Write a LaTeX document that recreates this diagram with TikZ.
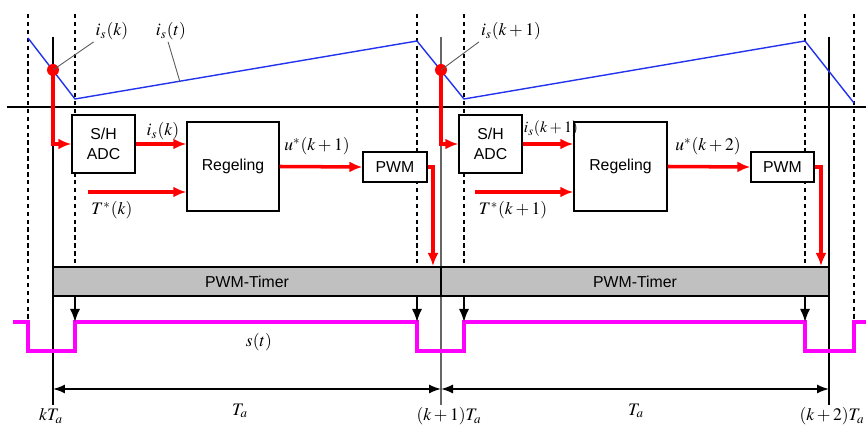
\documentclass[tikz,border=0pt]{standalone}
\usepackage{mathptmx}
\usepackage{fontspec}
\setmainfont{Liberation Sans}
\usetikzlibrary{arrows.meta, positioning}
\definecolor{curBlue}{HTML}{2233EE}
\definecolor{swMagenta}{HTML}{FF00FF}
\definecolor{timerGray}{HTML}{C0C0C0}
\tikzset{
  blockbox/.style={
    draw, thick, fill=white,
    inner sep=0pt, align=center, font=\small
  },
  timerbar/.style={
    draw, thick, fill=timerGray,
    minimum width=7.76cm, minimum height=0.58cm,
    inner sep=0pt, font=\small
  },
  sample/.style={circle, fill=red, minimum size=0.24cm, inner sep=0pt},
  sigarr/.style={-{Latex[length=2.6mm, width=2.2mm]}, red, line width=2pt},
  trigarr/.style={-{Latex[length=2.6mm, width=2mm]}, line width=0.9pt},
  dimarr/.style={{Latex[length=2.4mm]}-{Latex[length=2.4mm]}, line width=0.9pt},
  markline/.style={dash pattern=on 2.5pt off 2pt, line width=0.8pt},
  pointer/.style={black!65, line width=0.5pt},
  mlabel/.style={font=\normalsize, inner sep=1pt}
}

\begin{document}
\begin{tikzpicture}[x=0.02cm, y=-0.02cm]
\useasboundingbox (0,0) rectangle (866,428);

% time marks
\foreach \xx in {28,75,417,464,805,854}
  \draw[markline] (\xx,14) -- (\xx,352);
\draw[line width=0.9pt] (53,37) -- (53,405);
\draw[line width=0.9pt, black!60] (441,37) -- (441,405);
\draw[line width=0.9pt] (829,37) -- (829,405);
\draw[line width=0.9pt] (7,107) -- (866,107);

% current
\draw[curBlue, line width=0.8pt] (28,38) -- (75,99) -- (417,41) -- (464,99) -- (805,41) -- (854,103);
\coordinate (cp) at (180,82);
\node[sample] (d1) at (53,70) {};
\node[sample] (d2) at (441,70) {};
\node[mlabel] (lisk) at (112,31) {$i_s(k)$};
\node[mlabel] (lisT) at (171,31) {$i_s(t)$};
\node[mlabel] (lisk1) at (511,31) {$i_s(k+1)$};
\draw[pointer] (d1.center) -- (lisk.south west);
\draw[pointer] (lisT.255) -- (cp);
\draw[pointer] (d2.center) -- (lisk1.south west);

% blocks
\node[blockbox, minimum width=1.26cm, minimum height=1.16cm] (sh1) at (103.5,144) {S/H\\ADC};
\node[blockbox, minimum width=1.84cm, minimum height=1.78cm] (reg1) at (233,166.5) {Regeling};
\node[blockbox, minimum width=1.28cm, minimum height=0.6cm] (pwm1) at (395,167) {PWM};
\node[blockbox, minimum width=1.26cm, minimum height=1.16cm] (sh2) at (490.5,144) {S/H\\ADC};
\node[blockbox, minimum width=1.86cm, minimum height=1.78cm] (reg2) at (620.5,166.5) {Regeling};
\node[blockbox, minimum width=1.26cm, minimum height=0.6cm] (pwm2) at (782.5,167) {PWM};

\node[timerbar] (tim1) at (247,281.5) {PWM-Timer};
\node[timerbar] (tim2) at (635,281.5) {PWM-Timer};

% signal flow
\coordinate (ref1) at (88,192);
\coordinate (ref2) at (475,192);
\coordinate (tk1) at (433,266);
\coordinate (tk2) at (821,266);
\draw[sigarr] (d1.center) |- (sh1.west);
\draw[sigarr] (sh1.east) -- (sh1.east -| reg1.west);
\draw[sigarr] (ref1) -- (ref1 -| reg1.west);
\draw[sigarr] (reg1.east) -- (pwm1.west);
\draw[sigarr] (pwm1.east) -| (tk1);
\draw[sigarr] (d2.center) |- (sh2.west);
\draw[sigarr] (sh2.east) -- (sh2.east -| reg2.west);
\draw[sigarr] (ref2) -- (ref2 -| reg2.west);
\draw[sigarr] (reg2.east) -- (pwm2.west);
\draw[sigarr] (pwm2.east) -| (tk2);

\node[mlabel] at (163,131) {$i_s(k)$};
\node[mlabel] at (112,210) {$T^*(k)$};
\node[mlabel] at (317,146) {$u^*(k+1)$};
\node[mlabel, font=\small] at (551,129) {$i_s(k+1)$};
\node[mlabel] at (513,210) {$T^*(k+1)$};
\node[mlabel] at (708,146) {$u^*(k+2)$};

% switching signal
\draw[swMagenta, line width=1.9pt] (13,322) -- (28,322) -- (28,351) -- (75,351) -- (75,322)
  -- (417,322) -- (417,351) -- (464,351) -- (464,322) -- (805,322) -- (805,351)
  -- (854,351) -- (854,322) -- (866,322);
\coordinate (e1) at (75,322);
\coordinate (e2) at (417,322);
\coordinate (e3) at (464,322);
\coordinate (e4) at (805,322);
\draw[trigarr] (tim1.south -| e1) -- (e1);
\draw[trigarr] (tim1.south -| e2) -- (e2);
\draw[trigarr] (tim2.south -| e3) -- (e3);
\draw[trigarr] (tim2.south -| e4) -- (e4);
\node[mlabel] at (259,342) {$s(t)$};

% sampling period
\coordinate (t0) at (53,389);
\coordinate (t1) at (441,389);
\coordinate (t2) at (829,389);
\draw[dimarr] (t0) -- (t1);
\draw[dimarr] (t1) -- (t2);
\node[mlabel] at (240,411) {$T_a$};
\node[mlabel] at (636,411) {$T_a$};
\node[mlabel] at (51,416) {$kT_a$};
\node[mlabel] at (449,416) {$(k+1)T_a$};
\node[mlabel] at (832,416) {$(k+2)T_a$};

\end{tikzpicture}
\end{document}
